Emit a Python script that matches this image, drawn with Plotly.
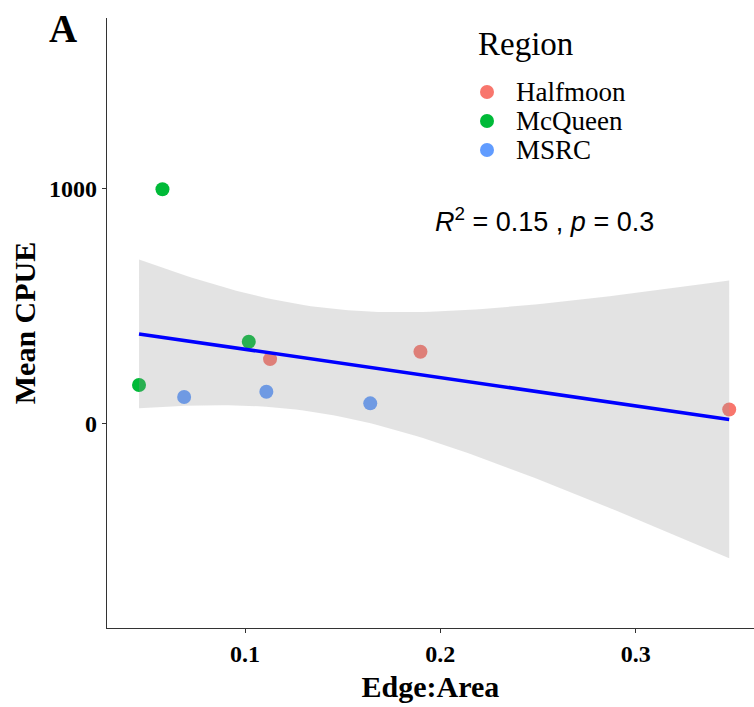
import numpy as np
import plotly.graph_objects as go

# ---- data ----
regions = ["Halfmoon", "McQueen", "MSRC"]
colors = ["#F8766D", "#00BA38", "#619CFF"]

halfmoon_x = [0.1128, 0.1898, 0.3479]
halfmoon_y = [274, 305, 60]
mcqueen_x = [0.0577, 0.0457, 0.1019]
mcqueen_y = [996, 164, 348]
msrc_x = [0.0688, 0.1109, 0.1641]
msrc_y = [113, 135, 86]

x_ticks = [0.1, 0.2, 0.3]
y_ticks = [0, 1000]

xs = [halfmoon_x, mcqueen_x, msrc_x]
ys = [halfmoon_y, mcqueen_y, msrc_y]

# ---- linear model with 95% CI (like geom_smooth(method="lm")) ----
allx = np.array(halfmoon_x + mcqueen_x + msrc_x)
ally = np.array(halfmoon_y + mcqueen_y + msrc_y)
n = len(allx)
slope, intercept = np.polyfit(allx, ally, 1)
resid = ally - (slope * allx + intercept)
s = np.sqrt(np.sum(resid ** 2) / (n - 2))
sxx = np.sum((allx - allx.mean()) ** 2)
t975 = 2.3646  # t quantile, df = 7
gx = np.linspace(allx.min(), allx.max(), 80)
gy = slope * gx + intercept
se = s * np.sqrt(1 / n + (gx - allx.mean()) ** 2 / sxx)
upper = gy + t975 * se
lower = gy - t975 * se

fig = go.Figure()

for name, c, x, y in zip(regions, colors, xs, ys):
    fig.add_trace(go.Scatter(
        x=x, y=y, mode="markers", name=name, showlegend=False,
        marker=dict(color=c, size=14, line=dict(width=0)),
    ))

# ribbon drawn over points (as in ggplot layer order)
fig.add_trace(go.Scatter(
    x=np.concatenate([gx, gx[::-1]]), y=np.concatenate([upper, lower[::-1]]),
    fill="toself", fillcolor="rgba(153,153,153,0.27)", line=dict(width=0),
    mode="lines", showlegend=False, hoverinfo="skip",
))
fig.add_trace(go.Scatter(
    x=gx, y=gy, mode="lines", line=dict(color="#0000FF", width=3.5),
    showlegend=False,
))

serif = "Liberation Serif"
axis_common = dict(
    showline=True, linecolor="#333333", linewidth=1.2,
    ticks="outside", ticklen=4, tickcolor="#333333", tickwidth=1.2,
    showgrid=False, zeroline=False,
    tickfont=dict(family=serif, size=24, color="black", weight="bold"),
)

# plot area in pixels: left 107, right 754, top 18, bottom 628
PL, PR, PT, PB = 107, 754, 18, 628


def px(x):
    return (x - PL) / (PR - PL)


def py(y):
    return (PB - y) / (PB - PT)


annotations = [
    dict(text="A", x=px(63), y=py(28), xref="paper", yref="paper", showarrow=False,
         font=dict(family=serif, size=39, color="black", weight="bold"),
         xanchor="center", yanchor="middle"),
    dict(text="<i>R</i><sup>2</sup> = 0.15 , <i>p</i> = 0.3", x=px(544), y=py(220),
         xref="paper", yref="paper", showarrow=False,
         font=dict(family="Liberation Sans", size=27, color="black"),
         xanchor="center", yanchor="middle"),
    dict(text="Region", x=px(476), y=py(44), xref="paper", yref="paper", showarrow=False,
         font=dict(family=serif, size=33, color="black"),
         xanchor="left", yanchor="middle"),
]
shapes = []
legend_y = [92, 121, 150]
for name, c, ly in zip(regions, colors, legend_y):
    annotations.append(dict(
        text=name, x=px(515), y=py(ly), xref="paper", yref="paper", showarrow=False,
        font=dict(family=serif, size=27, color="black"), xanchor="left", yanchor="middle",
        borderpad=0))
    shapes.append(dict(
        type="circle", xref="paper", yref="paper",
        x0=px(480), x1=px(494), y0=py(ly + 7), y1=py(ly - 7),
        fillcolor=c, line=dict(width=0)))

fig.update_layout(
    width=754, height=707,
    margin=dict(l=PL, r=0, t=PT, b=707 - PB),
    plot_bgcolor="white", paper_bgcolor="white",
    showlegend=False,
    xaxis=dict(
        range=[0.0293, 0.3606], tickvals=x_ticks, ticktext=["0.1", "0.2", "0.3"],
        title=dict(text="Edge:Area", font=dict(family=serif, size=30, color="black", weight="bold"),
                   standoff=10),
        automargin=False, **axis_common,
    ),
    yaxis=dict(
        range=[-869, 1724], tickvals=y_ticks, ticktext=["0", "1000"],
        title=dict(text="Mean CPUE", font=dict(family=serif, size=30, color="black", weight="bold"),
                   standoff=4),
        automargin=False, **axis_common,
    ),
    annotations=annotations,
    shapes=shapes,
)

fig.write_html("out.html")
